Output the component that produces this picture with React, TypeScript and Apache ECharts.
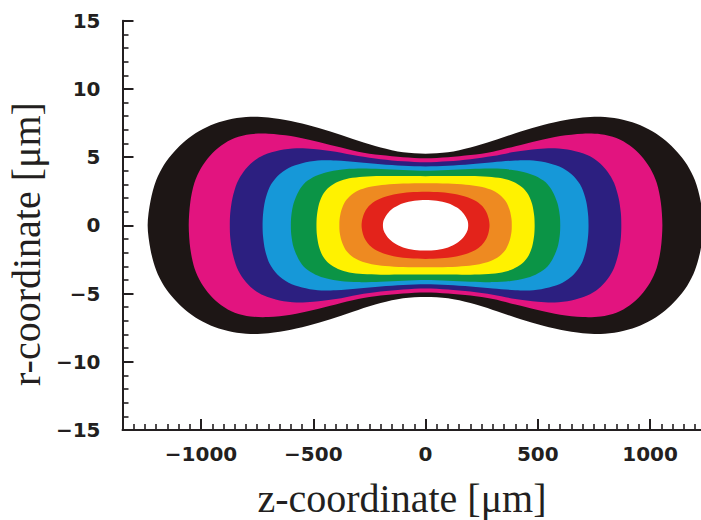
import React, { useEffect, useRef } from "react";
import * as echarts from "echarts";

// Tick values
const xMajorTicks = [-1000, -500, 0, 500, 1000];
const yMajorTicks = [-15, -10, -5, 0, 5, 10, 15];
const xMin = -1350;
const xMax = 1227;

// Contour half-profiles (upper-right quadrant): [z (µm), r (µm)], mirrored in z and r
const blackProfile = [[0, 5.25], [100, 5.35], [200, 5.7], [300, 6.2], [400, 6.75], [500, 7.25], [600, 7.65], [700, 7.9], [780, 7.96], [860, 7.82], [940, 7.45], [1010, 6.9], [1070, 6.2], [1120, 5.4], [1165, 4.45], [1200, 3.3], [1225, 1.8], [1238, 0]];
const magentaProfile = [[0, 4.92], [100, 5.0], [200, 5.15], [300, 5.4], [400, 5.8], [500, 6.2], [600, 6.55], [700, 6.72], [780, 6.68], [850, 6.4], [910, 5.85], [960, 5.1], [1000, 4.2], [1030, 3.1], [1048, 1.7], [1055, 0]];
const indigoProfile = [[0, 4.62], [100, 4.7], [200, 4.85], [300, 5.08], [400, 5.4], [500, 5.6], [575, 5.65], [650, 5.5], [720, 5.15], [770, 4.65], [810, 3.95], [840, 3.1], [860, 2.0], [870, 0.9], [872, 0]];
const lightBlueProfile = [[0, 4.32], [100, 4.37], [200, 4.48], [300, 4.62], [400, 4.75], [480, 4.75], [550, 4.55], [610, 4.2], [660, 3.6], [695, 2.8], [715, 1.8], [724, 0.8], [726, 0]];
const greenProfile = [[0, 4.0], [100, 4.06], [200, 4.13], [300, 4.16], [380, 4.08], [440, 3.9], [490, 3.62], [535, 3.15], [565, 2.5], [588, 1.6], [598, 0.7], [600, 0]];
const yellowProfile = [[0, 3.6], [100, 3.61], [200, 3.62], [280, 3.57], [340, 3.45], [390, 3.2], [430, 2.8], [458, 2.25], [475, 1.55], [484, 0.7], [486, 0]];
const orangeProfile = [[0, 3.08], [100, 3.06], [180, 2.98], [240, 2.85], [290, 2.62], [330, 2.25], [358, 1.75], [375, 1.1], [383, 0.45], [384, 0]];
const redProfile = [[0, 2.46], [70, 2.42], [130, 2.3], [180, 2.1], [220, 1.82], [250, 1.45], [270, 1.0], [281, 0.5], [285, 0]];
const whiteProfile = [[0, 1.85], [50, 1.8], [100, 1.62], [140, 1.3], [165, 0.95], [180, 0.6], [188, 0.3], [190, 0]];

const contourProfiles = [blackProfile, magentaProfile, indigoProfile, lightBlueProfile, greenProfile, yellowProfile, orangeProfile, redProfile, whiteProfile];
const contourColors = ["#1d1615", "#e2147f", "#2c1f80", "#1698d8", "#0b9446", "#fff200", "#ee8a21", "#e3231b", "#ffffff"];

const minorXTicks: number[] = [];
for (let v = -1300; v <= 1200; v += 50) minorXTicks.push(v);

const axisColor = "#231f20";
const tickFont = { fontFamily: "DejaVu Sans", fontSize: 20, fontWeight: "bold", color: "#231f20" };
const fmt = (v: number) => (v < 0 ? "\u2212" + Math.abs(v) : String(v));

export default function App() {
  const ref = useRef<HTMLDivElement>(null);
  useEffect(() => {
    if (!ref.current) return;
    const chart = echarts.init(ref.current, null, { renderer: "svg" });
    const option: any = {
      animation: false,
      backgroundColor: "#ffffff",
      grid: { left: 122.5, right: 0, top: 20.7, bottom: 90, containLabel: false },
      xAxis: [
        {
          type: "value",
          min: xMin,
          max: xMax,
          position: "bottom",
          axisLine: { show: true, onZero: false, lineStyle: { color: axisColor, width: 2 } },
          axisTick: { show: true, inside: true, length: 11, customValues: xMajorTicks, lineStyle: { color: axisColor, width: 2 } },
          axisLabel: { show: true, customValues: xMajorTicks, margin: 14, formatter: fmt, ...tickFont },
          splitLine: { show: false },
        },
        {
          type: "value",
          min: xMin,
          max: xMax,
          position: "bottom",
          offset: 0,
          axisLine: { show: false, onZero: false },
          axisTick: { show: true, inside: true, length: 6, customValues: minorXTicks, lineStyle: { color: axisColor, width: 1.6 } },
          axisLabel: { show: false },
          splitLine: { show: false },
        },
      ],
      yAxis: {
        type: "value",
        min: -15,
        max: 15,
        interval: 5,
        axisLine: { show: true, onZero: false, lineStyle: { color: axisColor, width: 2 } },
        axisTick: { show: true, inside: true, length: 11, lineStyle: { color: axisColor, width: 2 } },
        minorTick: { show: true, splitNumber: 5, length: 6, lineStyle: { color: axisColor, width: 1.6 } },
        axisLabel: { show: true, margin: 22, formatter: fmt, ...tickFont },
        splitLine: { show: false },
      },
      graphic: [
        {
          type: "text",
          x: 402,
          y: 498,
          style: { text: "z-coordinate [\u03bcm]", font: '40px "Liberation Serif"', fill: "#231f20", align: "center", verticalAlign: "middle" },
        },
        {
          type: "text",
          x: 26,
          y: 244,
          rotation: Math.PI / 2,
          style: { text: "r-coordinate [\u03bcm]", font: '40px "Liberation Serif"', fill: "#231f20", align: "center", verticalAlign: "middle" },
        },
      ],
      series: [
        {
          type: "custom",
          coordinateSystem: "cartesian2d",
          xAxisIndex: 0,
          yAxisIndex: 0,
          data: contourProfiles.map((_, i) => [0, 0, i]),
          renderItem: (params: any, api: any) => {
            const prof = contourProfiles[params.dataIndex];
            const n = prof.length;
            const pts: number[][] = [];
            for (let k = n - 1; k >= 0; k--) pts.push(api.coord([prof[k][0], prof[k][1]]));
            for (let k = 1; k < n; k++) pts.push(api.coord([-prof[k][0], prof[k][1]]));
            for (let k = n - 2; k >= 0; k--) pts.push(api.coord([-prof[k][0], -prof[k][1]]));
            for (let k = 1; k < n - 1; k++) pts.push(api.coord([prof[k][0], -prof[k][1]]));
            return {
              type: "polygon",
              shape: { points: pts, smooth: 0.3 },
              style: { fill: contourColors[params.dataIndex], stroke: null },
            };
          },
        },
      ],
    };
    chart.setOption(option);
    return () => chart.dispose();
  }, []);
  return <div ref={ref} style={{ position: "absolute", left: 0, top: 0, width: 701, height: 520 }} />;
}
